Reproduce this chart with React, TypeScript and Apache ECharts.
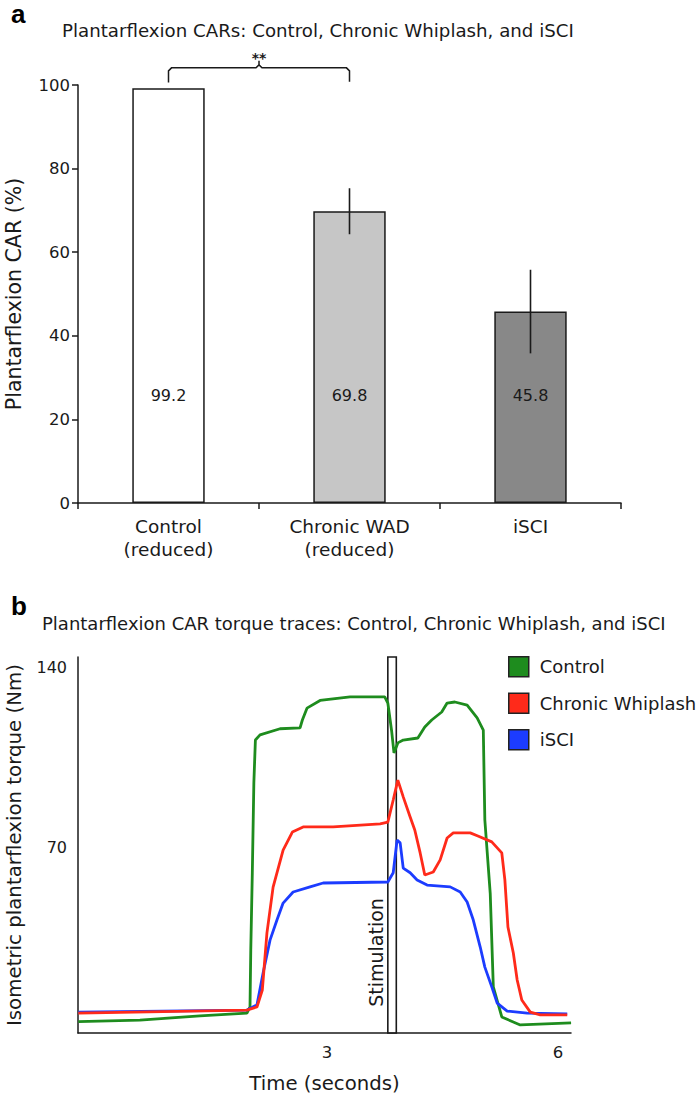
import React, { useEffect, useRef } from 'react';
import * as echarts from 'echarts';

// ---------- Panel a data ----------
const barCategories = ['Control\n(reduced)', 'Chronic WAD\n(reduced)', 'iSCI'];
const barValues = [99.2, 69.8, 45.8];
const barErrors = [0, 5.5, 10.0];
const barColors = ['#ffffff', '#c6c6c6', '#888888'];
const sigPair = [0, 1];
const sigLabel = '**';

// ---------- Panel b data (time s, torque Nm) ----------
const controlTrace = [
  [-0.23, 2.1], [0.57, 2.7], [1.35, 4.3], [1.96, 5.4], [2.0, 7.8], [2.01, 30], [2.03, 60], [2.05, 95],
  [2.07, 111.6], [2.13, 113.6], [2.39, 116], [2.65, 116.3], [2.68, 119.4], [2.74, 124], [2.91, 127],
  [3.3, 128.4], [3.75, 128.4], [3.79, 126], [3.84, 115], [3.87, 106.6], [3.92, 110.5], [3.99, 111.6],
  [4.18, 112.4], [4.27, 116.7], [4.36, 119.4], [4.49, 122.5], [4.56, 126], [4.66, 126.4], [4.82, 125.2],
  [4.95, 120.2], [5.03, 115.5], [5.05, 80.5], [5.12, 52], [5.16, 15.6], [5.27, 3.9], [5.51, 0.8], [6.17, 1.6],
];
const whiplashTrace = [
  [-0.23, 5.4], [1.96, 6.6], [2.09, 7.8], [2.16, 14.4], [2.22, 36.6], [2.3, 54.4], [2.43, 68.8],
  [2.55, 75.8], [2.69, 77.8], [3.08, 77.8], [3.69, 79], [3.79, 79.7], [3.86, 88.3], [3.92, 96],
  [3.99, 89.5], [4.08, 81.7], [4.14, 76.6], [4.21, 67.7], [4.27, 59.1], [4.38, 60.3], [4.47, 65],
  [4.56, 73.5], [4.64, 75.5], [4.86, 75.5], [4.96, 74.3], [5.14, 72], [5.27, 67.7], [5.31, 57.2],
  [5.35, 38.9], [5.42, 28.8], [5.47, 18.3], [5.53, 10.5], [5.64, 5.8], [5.77, 4.7], [6.12, 4.7],
];
const isciTrace = [
  [-0.23, 5.8], [1.96, 6.6], [2.09, 8.6], [2.17, 21], [2.26, 33.8], [2.35, 41.6], [2.43, 48.2],
  [2.56, 52.5], [2.78, 54.5], [2.95, 56], [3.79, 56.4], [3.86, 60], [3.91, 72.7], [3.95, 71.6],
  [3.99, 61.8], [4.08, 60], [4.17, 57.2], [4.3, 55.2], [4.6, 54.5], [4.73, 52.5], [4.82, 48.6],
  [4.9, 41.6], [4.99, 31.1], [5.05, 23.3], [5.14, 15.6], [5.21, 9.3], [5.34, 6.2], [5.6, 5.4], [6.12, 5.1],
];
const traceNames = ['Control', 'Chronic Whiplash', 'iSCI'];
const traceColors = ['#1e8c1e', '#ff2a1a', '#1c3cff'];
const stimulationWindow = [3.79, 3.9];
const timeLabels = [3, 6];
const torqueLabels = [70, 140];
const timeRange = [-0.234, 6.169];
const torqueRange = [-2.33, 143.9];

const FONT = 'DejaVu Sans';
const INK = '#1a1a1a';

export default function App() {
  const ref = useRef<HTMLDivElement>(null);
  useEffect(() => {
    document.body.style.margin = '0';
    const chart = echarts.init(ref.current!, null, { renderer: 'svg' });
    const traces = [controlTrace, whiplashTrace, isciTrace];
    const option: any = {
      animation: false,
      textStyle: { fontFamily: FONT, color: INK },
      title: [
        { text: 'a', left: 6, top: -4, textStyle: { fontFamily: 'Liberation Sans', fontSize: 26, fontWeight: 'bold', color: '#000' } },
        { text: 'Plantarflexion CARs: Control, Chronic Whiplash, and iSCI', left: 57, top: 16, textStyle: { fontFamily: FONT, fontSize: 18.2, fontWeight: 'normal', color: INK } },
        { text: 'b', left: 6, top: 588, textStyle: { fontFamily: 'Liberation Sans', fontSize: 26, fontWeight: 'bold', color: '#000' } },
        { text: 'Plantarflexion CAR torque traces: Control, Chronic Whiplash, and iSCI', left: 37, top: 609, textStyle: { fontFamily: FONT, fontSize: 18, fontWeight: 'normal', color: INK } },
      ],
      legend: {
        data: traceNames,
        orient: 'vertical',
        left: 503,
        top: 651,
        itemWidth: 20,
        itemHeight: 20,
        itemGap: 15,
        icon: 'rect',
        itemStyle: { borderColor: '#222', borderWidth: 1.5 },
        textStyle: { fontFamily: FONT, fontSize: 18, color: INK, padding: [0, 0, 0, 6] },
      },
      grid: [
        { left: 78, right: 79, top: 85, bottom: 593, outerBoundsMode: 'none', containLabel: false },
        { left: 78, right: 129, top: 657, bottom: 63, outerBoundsMode: 'none', containLabel: false },
      ],
      xAxis: [
        {
          type: 'category', gridIndex: 0, data: barCategories,
          axisLine: { lineStyle: { color: INK, width: 1.5 } },
          axisTick: { show: true, length: 6, lineStyle: { color: INK, width: 1.5 } },
          axisLabel: { fontFamily: FONT, fontSize: 18.5, color: INK, lineHeight: 23, margin: 12 },
        },
        {
          type: 'value', gridIndex: 1, min: timeRange[0], max: timeRange[1],
          axisLine: { show: true, onZero: false, lineStyle: { color: INK, width: 1.5 } },
          axisTick: { show: false },
          splitLine: { show: false },
          axisLabel: { customValues: timeLabels, fontFamily: FONT, fontSize: 16.5, color: INK, margin: 11 },
          name: 'Time (seconds)', nameLocation: 'middle', nameGap: 40,
          nameTextStyle: { fontFamily: FONT, fontSize: 19.7, color: INK },
        },
      ],
      yAxis: [
        {
          type: 'value', gridIndex: 0, min: 0, max: 100, interval: 20,
          axisLine: { show: true, lineStyle: { color: INK, width: 1.5 } },
          axisTick: { show: true, length: 6, lineStyle: { color: INK, width: 1.5 } },
          splitLine: { show: false },
          axisLabel: { fontFamily: FONT, fontSize: 16.5, color: INK, margin: 8 },
          name: 'Plantarflexion CAR (%)', nameLocation: 'middle', nameGap: 54,
          nameTextStyle: { fontFamily: FONT, fontSize: 20.5, color: INK },
        },
        {
          type: 'value', gridIndex: 1, min: torqueRange[0], max: torqueRange[1],
          axisLine: { show: true, onZero: false, lineStyle: { color: INK, width: 1.5 } },
          axisTick: { show: false },
          splitLine: { show: false },
          axisLabel: { customValues: torqueLabels, fontFamily: FONT, fontSize: 16, color: INK, margin: 11 },
          name: 'Isometric plantarflexion torque (Nm)', nameLocation: 'middle', nameGap: 54,
          nameTextStyle: { fontFamily: FONT, fontSize: 19.8, color: INK },
        },
      ],
      series: [
        {
          type: 'bar', xAxisIndex: 0, yAxisIndex: 0, barWidth: '40%',
          data: barValues.map((v, i) => ({ value: v, itemStyle: { color: barColors[i] } })),
          itemStyle: { borderColor: INK, borderWidth: 1.5 },
          label: { show: true, position: 'insideBottom', distance: 100, fontFamily: FONT, fontSize: 16, color: INK },
          silent: true,
        },
        {
          type: 'custom', xAxisIndex: 0, yAxisIndex: 0, clip: false, z: 5,
          data: barValues.map((v, i) => [i, v, barErrors[i]]),
          encode: { x: 0, y: 1 },
          renderItem: (params: any, api: any) => {
            const i = api.value(0), m = api.value(1), e = api.value(2);
            if (!e) return null;
            const top = api.coord([i, m + e]);
            const bot = api.coord([i, m - e]);
            return { type: 'line', shape: { x1: top[0], y1: top[1], x2: bot[0], y2: bot[1] }, style: { stroke: INK, lineWidth: 1.6 } };
          },
        },
        {
          type: 'custom', xAxisIndex: 0, yAxisIndex: 0, clip: false, z: 5,
          data: [[sigPair[0], sigPair[1]]],
          encode: { x: [0, 1] },
          renderItem: (params: any, api: any) => {
            const a = api.value(0), b = api.value(1);
            const pL = api.coord([a, 100.6]);
            const pR = api.coord([b, 100.8]);
            const h = api.coord([a, 104.1])[1];
            const x0 = pL[0], x1 = pR[0], xm = (x0 + x1) / 2;
            const st = { stroke: INK, lineWidth: 1.5, fill: null };
            return {
              type: 'group',
              children: [
                { type: 'polyline', shape: { points: [[x0, pL[1]], [x0, h + 3], [x0 + 3, h], [xm - 3, h], [xm, h - 3], [xm, h - 7]] }, style: st },
                { type: 'polyline', shape: { points: [[xm, h - 3], [xm + 3, h], [x1 - 3, h], [x1, h + 3], [x1, pR[1]]] }, style: st },
                { type: 'text', x: xm, y: h - 10, style: { text: sigLabel, fill: INK, font: 'bold 14px ' + FONT, textAlign: 'center', textVerticalAlign: 'middle' } },
              ],
            };
          },
        },
        ...traces.map((d, k) => ({
          type: 'line', name: traceNames[k], xAxisIndex: 1, yAxisIndex: 1, data: d,
          showSymbol: false, symbol: 'none', z: k === 1 ? 4 : 3,
          lineStyle: { color: traceColors[k], width: 2.8 },
          itemStyle: { color: traceColors[k] },
          ...(k === 0
            ? {
                markArea: {
                  silent: true,
                  itemStyle: { color: 'rgba(255,255,255,0.25)', borderColor: INK, borderWidth: 1.6 },
                  data: [[{ xAxis: stimulationWindow[0], yAxis: torqueRange[0] }, { xAxis: stimulationWindow[1], yAxis: torqueRange[1] }]],
                },
              }
            : {}),
        })),
      ],
    };
    chart.setOption(option);
    const p = chart.convertToPixel({ xAxisIndex: 1, yAxisIndex: 1 }, [stimulationWindow[0], 29]);
    chart.setOption({
      graphic: [
        {
          type: 'text', x: p[0] - 12, y: p[1], rotation: Math.PI / 2,
          style: { text: 'Stimulation', font: '19px ' + FONT, fill: INK, textAlign: 'center', textVerticalAlign: 'middle' },
        },
      ],
    });
    return () => chart.dispose();
  }, []);
  return <div ref={ref} style={{ width: 700, height: 1096 }} />;
}
